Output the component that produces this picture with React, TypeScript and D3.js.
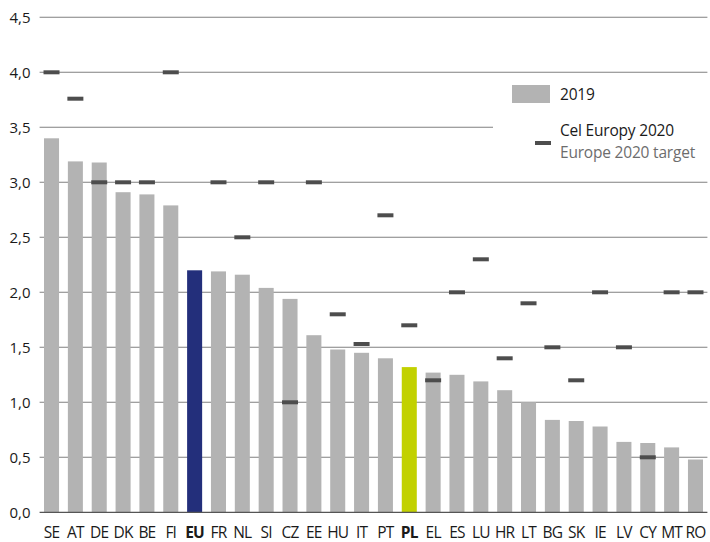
import React from "react";
import * as d3 from "d3";

const categories = ["SE","AT","DE","DK","BE","FI","EU","FR","NL","SI","CZ","EE","HU","IT","PT","PL","EL","ES","LU","HR","LT","BG","SK","IE","LV","CY","MT","RO"];
const values2019 = [3.40,3.19,3.18,2.91,2.89,2.79,2.20,2.19,2.16,2.04,1.94,1.61,1.48,1.45,1.40,1.32,1.27,1.25,1.19,1.11,1.00,0.84,0.83,0.78,0.64,0.63,0.59,0.48];
const targets2020: (number | null)[] = [4.0,3.76,3.0,3.0,3.0,4.0,null,3.0,2.5,3.0,1.0,3.0,1.8,1.53,2.7,1.7,1.2,2.0,2.3,1.4,1.9,1.5,1.2,2.0,1.5,0.5,2.0,2.0];
const yTicks = [0,0.5,1.0,1.5,2.0,2.5,3.0,3.5,4.0,4.5];
const highlight: Record<string,string> = { EU: "#232f7b", PL: "#c2d100" };
const legendBar = "2019";
const legendTarget = "Cel Europy 2020";
const legendTargetEn = "Europe 2020 target";

const W = 710, H = 542;
const FONT = "'Open Sans', 'Noto Sans', sans-serif";

export default function App() {
  const x = d3.scaleBand<string>().domain(categories).range([39.6, 707.4]).paddingInner(0.37).paddingOuter(0.185);
  const y = d3.scaleLinear().domain([0, 4.5]).range([512.3, 17.3]);
  const fmt = (v: number) => d3.format(".1f")(v).replace(".", ",");
  const bw = x.bandwidth();
  return (
    <svg width={W} height={H} style={{ position: "absolute", left: 0, top: 0, background: "#fff" }} fontFamily={FONT}>
      {yTicks.filter(t => t > 0).map(t => (
        <line key={t} x1={39.6} x2={t === 3.5 ? 493 : 707.4} y1={y(t)} y2={y(t)} stroke="#808080" strokeWidth={1.1} />
      ))}
      {yTicks.map(t => (
        <text key={"l" + t} x={30.5} y={y(t)} dy="0.36em" textAnchor="end" fontSize={15} fill="#1a1a1a">{fmt(t)}</text>
      ))}
      {categories.map((c, i) => (
        <rect key={c} x={x(c)} y={y(values2019[i])} width={bw} height={y(0) - y(values2019[i])} fill={highlight[c] || "#b3b3b3"} />
      ))}
      <line x1={39.6} x2={707.4} y1={y(0)} y2={y(0)} stroke="#555" strokeWidth={1.3} />
      {categories.map((c, i) => targets2020[i] == null ? null : (
        <rect key={"t" + c} x={(x(c) as number) + bw / 2 - 8} y={y(targets2020[i] as number) - 2} width={16} height={4} fill="#4d4d4d" />
      ))}
      {categories.map(c => (
        <text key={"x" + c} x={(x(c) as number) + bw / 2} y={537.6} textAnchor="middle" fontSize={15.5} fill="#1a1a1a" fontWeight={highlight[c] ? 700 : 400} letterSpacing={-0.8}>{c}</text>
      ))}
      <rect x={512} y={85} width={38} height={18} fill="#b3b3b3" />
      <text x={560} y={99.5} fontSize={15.5} fill="#1a1a1a" letterSpacing={-0.2}>{legendBar}</text>
      <rect x={535} y={141} width={16} height={4} fill="#4d4d4d" />
      <text x={560} y={136} fontSize={15.5} fill="#1a1a1a" letterSpacing={-0.2}>{legendTarget}</text>
      <text x={560} y={157.5} fontSize={15.5} fill="#6d6d6d" letterSpacing={-0.2}>{legendTargetEn}</text>
    </svg>
  );
}
